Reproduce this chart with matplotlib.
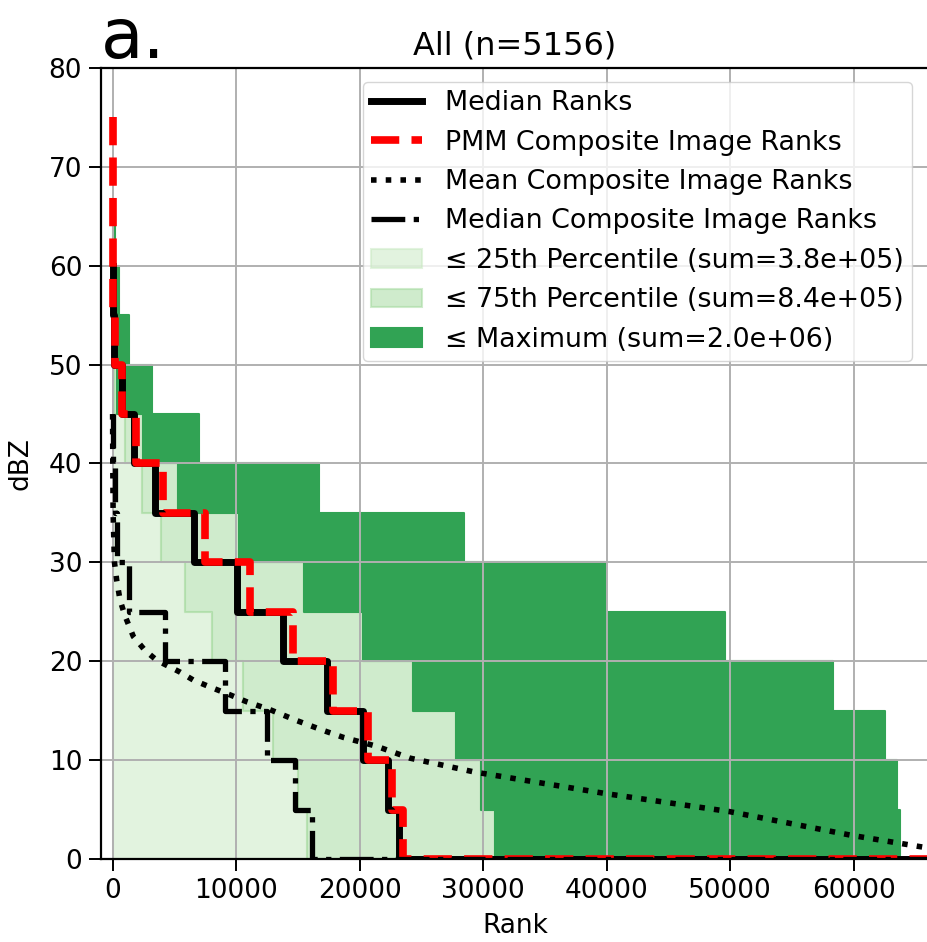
import numpy as np
import matplotlib
matplotlib.use('Agg')
import matplotlib.pyplot as plt

nan = np.nan
# dBZ bin lower edges (bin width 5 dBZ)
dbz_lower = np.arange(0, 80, 5)
bin_width = 5

# rank values per dBZ bin (index 0 -> 0-5 dBZ, ... index 15 -> 75-80 dBZ)
median_ranks = [23200, 22330, 20250, 17330, 13820, 10050, 6600, 3450, 1700, 720, 150, 20, nan, nan, nan, nan]
pmm_ranks = [23540, 22600, 20710, 17870, 14630, 11130, 7480, 4050, 1920, 735, 200, 20, 20, 20, 20, nan]
median_comp_ranks = [16120, 14770, 12480, 9100, 4240, 1300, 330, 195, 50, nan, nan, nan, nan, nan, nan, nan]
p25_ranks = [15720, 15040, 12960, 10590, 8020, 5860, 3890, 2350, 1000, 150, nan, nan, nan, nan, nan, nan]
p75_ranks = [30990, 29860, 27800, 24300, 20250, 15530, 10240, 5320, 2435, 350, nan, nan, nan, nan, nan, nan]
max_ranks = [63760, 63470, 62540, 58310, 49580, 39890, 28450, 16750, 7000, 3200, 1340, 500, 200, nan, nan, nan]

# mean composite image ranks (continuous curve)
mean_rank = [0, 15, 40, 150, 330, 600, 1000, 1680, 2620, 3570, 5460, 6530, 7880, 9510,
             10860, 12750, 14910, 17060, 18680, 21380, 24080, 29290, 40000, 49920, 59800, 66100]
mean_dbz = [45, 40, 35, 30, 28.2, 26.2, 24.6, 22.5, 21.1, 20.1, 18.9, 18.1, 17.4, 16.6,
            15.9, 15.1, 14.0, 13.0, 12.3, 11.4, 10.2, 8.8, 6.6, 4.8, 2.4, 1.1]

total_ranks = 66100
title = 'All (n=5156)'


def steps(vals, lower=None, tail=None):
    xs, ys, xl = [], [], []
    for i in reversed(range(len(vals))):
        v = vals[i]
        if np.isnan(v):
            continue
        ys += [dbz_lower[i] + bin_width, dbz_lower[i]]
        xs += [v, v]
        if lower is not None:
            lv = lower[i]
            lv = 0 if np.isnan(lv) else lv
            xl += [lv, lv]
    if tail is not None:
        xs.append(tail)
        ys.append(0)
    return np.array(xs), np.array(ys), np.array(xl)


fig = plt.figure(figsize=(9.27, 9.42), dpi=100)
ax = fig.add_axes([101 / 927, 83 / 942, (929 - 101) / 927, 791 / 942])

x, y, _ = steps(median_ranks, tail=total_ranks)
ax.plot(x, y, color='black', lw=5.0, label='Median Ranks')
x, y, _ = steps(pmm_ranks, tail=total_ranks)
ax.plot(x, y, color='red', lw=5.5, ls='--', label='PMM Composite Image Ranks')
ax.plot(mean_rank, mean_dbz, color='black', lw=4.0, ls=':', label='Mean Composite Image Ranks')
x, y, _ = steps(median_comp_ranks, tail=total_ranks)
ax.plot(x, y, color='black', lw=3.8, ls='-.', label='Median Composite Image Ranks')

s25 = np.nansum(p25_ranks) * bin_width
s75 = np.nansum(p75_ranks) * bin_width
smax = np.nansum(max_ranks) * bin_width

x, y, _ = steps(p25_ranks)
ax.fill_betweenx(y, 0, x, color='#c7e9c0', alpha=0.5, lw=1.5,
                 label='≤ 25th Percentile (sum=%.1e)' % s25)
x, y, xl = steps(p75_ranks, lower=p25_ranks)
ax.fill_betweenx(y, xl, x, color='#a1d99b', alpha=0.5, lw=1.5,
                 label='≤ 75th Percentile (sum=%.1e)' % s75)
x, y, xl = steps(max_ranks, lower=p75_ranks)
ax.fill_betweenx(y, xl, x, color='#31a354', alpha=1.0, lw=1.5,
                 label='≤ Maximum (sum=%.1e)' % smax)

ax.set_xlim(-940, total_ranks)
ax.set_ylim(0, 80)
ax.set_xticks(np.arange(0, 70000, 10000))
ax.set_yticks(np.arange(0, 90, 10))
ax.grid(True, color='#b0b0b0', linewidth=1.4)
for sp in ax.spines.values():
    sp.set_linewidth(1.6)
ax.tick_params(labelsize=19, length=8.5, width=1.4, pad=5)
ax.set_xlabel('Rank', fontsize=19, labelpad=7)
ax.set_ylabel('dBZ', fontsize=19, labelpad=11)
ax.set_title(title, fontsize=23, pad=10)
ax.text(0, 1 + 10 / 791, 'a.', transform=ax.transAxes, fontsize=50,
        ha='left', va='baseline')

ax.legend(loc='upper right', bbox_to_anchor=((912 - 101) / 828, (859 - 82) / 791),
          borderaxespad=0, fontsize=19.4, handlelength=1.9, handletextpad=0.85,
          borderpad=0.3, framealpha=0.8)

fig.savefig('out.png', dpi=100)
